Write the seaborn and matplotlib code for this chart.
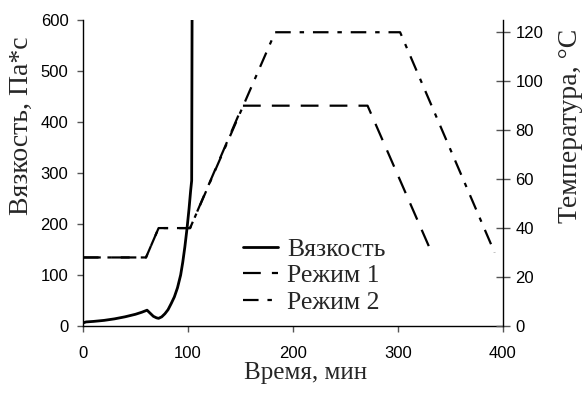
import matplotlib
matplotlib.use("Agg")
import matplotlib.pyplot as plt
import seaborn as sns
import pandas as pd

# Viscosity curve (time, min -> viscosity, Pa*s)
visc_time = [0, 3, 10, 20, 30, 40, 50, 56, 61, 64, 67, 70, 72, 75, 78, 81, 84, 87, 90,
             93, 95, 97, 99, 101, 102.5, 103.5, 104]
visc_vals = [6, 8, 9, 11, 14, 18, 23, 27, 31, 25, 19, 16, 15, 18, 24, 32, 44, 57, 75,
             100, 125, 155, 190, 230, 265, 285, 700]

# Temperature regimes (time, min -> temperature, °C)
mode1_time = [0, 60, 72, 102, 152, 271, 332]
mode1_temp = [28, 28, 40, 40, 90, 90, 30]
mode2_time = [0, 60, 72, 102, 183, 302, 392]
mode2_temp = [28, 28, 40, 40, 120, 120, 30]

x_ticks = [0, 100, 200, 300, 400]
y_left_ticks = [0, 100, 200, 300, 400, 500, 600]
y_right_ticks = [0, 20, 40, 60, 80, 100, 120]

sns.set_style("ticks")
serif = ["Liberation Serif", "DejaVu Serif"]
sans = ["Liberation Sans", "DejaVu Sans"]
plt.rcParams["font.family"] = sans

fig = plt.figure(figsize=(5.84, 3.94), dpi=100)
ax = fig.add_axes([83 / 584, 68 / 394, 420 / 584, 306 / 394])
ax2 = ax.twinx()

dv = pd.DataFrame({"t": visc_time, "v": visc_vals})
d1 = pd.DataFrame({"t": mode1_time, "T": mode1_temp})
d2 = pd.DataFrame({"t": mode2_time, "T": mode2_temp})

sns.lineplot(data=dv, x="t", y="v", ax=ax, color="black", linewidth=2.0,
             label="Вязкость", legend=False, sort=False)
sns.lineplot(data=d1, x="t", y="T", ax=ax2, color="black", linewidth=1.6,
             linestyle=(0, (8, 5)), label="Режим 1", legend=False, sort=False)
sns.lineplot(data=d2, x="t", y="T", ax=ax2, color="black", linewidth=1.6,
             linestyle=(0, (7, 4, 2, 4)), label="Режим 2", legend=False, sort=False)

ax.set_xlim(0, 400)
ax.set_ylim(0, 600)
ax2.set_ylim(0, 125)
ax.set_xticks(x_ticks)
ax.set_yticks(y_left_ticks)
ax2.set_yticks(y_right_ticks)

for a in (ax, ax2):
    a.spines["top"].set_visible(False)
    for s in a.spines.values():
        s.set_color("black")
        s.set_linewidth(1.0)
ax.spines["right"].set_visible(False)
ax2.spines["left"].set_visible(False)
ax2.spines["bottom"].set_visible(False)

ax.tick_params(axis="x", direction="out", length=4.5, width=1, colors="#555555",
               labelcolor="black", labelsize=12, pad=10)
ax.tick_params(axis="y", direction="out", length=4.5, width=1, colors="#555555",
               labelcolor="black", labelsize=12, pad=6)
ax2.tick_params(axis="y", direction="inout", length=10, width=1, colors="#555555",
                labelcolor="black", labelsize=12, pad=4)

ax.set_xlabel("Время, мин", family=serif, fontsize=18)
ax.set_ylabel("Вязкость, Па*с", family=serif, fontsize=20)
ax2.set_ylabel("Температура, °C", family=serif, fontsize=20, rotation=90)
ax.xaxis.set_label_coords(0.529, -0.118)
ax.yaxis.set_label_coords(-0.117, 0.655)
ax2.yaxis.set_label_coords(1.131, 0.655)

h1, l1 = ax.get_legend_handles_labels()
h2, l2 = ax2.get_legend_handles_labels()
leg = ax2.legend(h1 + h2, l1 + l2, loc="upper left", bbox_to_anchor=(0.381, 0.288),
                 frameon=False, prop={"family": serif, "size": 18.5},
                 handlelength=1.36, handletextpad=0.35, labelspacing=0.13,
                 borderpad=0, borderaxespad=0)

fig.savefig("out.png", dpi=100)
